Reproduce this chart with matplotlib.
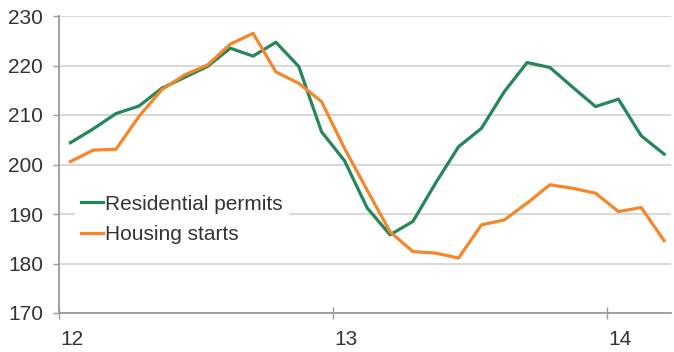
import numpy as np
import matplotlib.pyplot as plt
import matplotlib.transforms as mtransforms

plt.rcParams['font.family'] = ['Liberation Sans', 'DejaVu Sans']

# monthly, Jan 2012 .. Mar 2014
months = np.arange(27)
permits = [204.4, 207.2, 210.3, 211.8, 215.4, 217.6, 219.8, 223.5, 221.9, 224.7,
           219.8, 206.6, 200.8, 191.2, 185.8, 188.5, 196.3, 203.6, 207.3, 214.7,
           220.6, 219.6, 215.6, 211.7, 213.2, 205.8, 202.1]
starts = [200.6, 202.9, 203.1, 209.7, 215.1, 218.1, 220.1, 224.3, 226.5, 218.7,
          216.4, 212.7, 203.3, 194.8, 186.4, 182.4, 182.1, 181.1, 187.8, 188.8,
          192.2, 195.9, 195.2, 194.2, 190.5, 191.3, 184.6]
year_ticks = [12, 13, 14]

x = 12 + (months + 0.5) / 12.0

fig = plt.figure(figsize=(6.74, 3.52), dpi=100)
ax = fig.add_axes([59/674, 1-313/352, 612/674, 297/352])

ax.plot(x, permits, color='#23875a', lw=2.3, label='Residential permits', zorder=3)
ax.plot(x, starts, color='#f5862a', lw=2.3, label='Housing starts', zorder=3)

ax.set_xlim(12, 12 + 612/274)
ax.set_ylim(170, 230)
ax.set_yticks(np.arange(170, 231, 10))
ax.set_xticks(year_ticks)
ax.set_xticklabels([str(t) for t in year_ticks])

ax.grid(axis='y', color='#d6d6d6', lw=1.3)
ax.set_axisbelow(True)
for s in ['top', 'right']:
    ax.spines[s].set_visible(False)
for s in ['left', 'bottom']:
    ax.spines[s].set_color('#9a9a9a')
    ax.spines[s].set_linewidth(1.3)

ax.tick_params(axis='y', length=4.5, width=1, color='#9a9a9a', pad=7,
               labelsize=15, labelcolor='#333333')
ax.tick_params(axis='x', direction='inout', length=8, width=1, color='#9a9a9a',
               pad=8, labelsize=15, labelcolor='#333333')
offset = mtransforms.ScaledTranslation(1/100, 0, fig.dpi_scale_trans)
for lab in ax.get_xticklabels():
    lab.set_horizontalalignment('left')
    lab.set_transform(lab.get_transform() + offset)

leg = ax.legend(loc='upper left', bbox_to_anchor=(0.026, 0.42), frameon=True,
                fontsize=15, handlelength=1.05, handletextpad=0.1,
                labelspacing=0.55, borderpad=0.3, borderaxespad=0,
                labelcolor='#333333')
leg.get_frame().set_edgecolor('none')
leg.get_frame().set_facecolor('white')
leg.get_frame().set_alpha(1)
leg.get_frame().set_boxstyle('square', pad=0)

fig.savefig('out.png', dpi=100)
